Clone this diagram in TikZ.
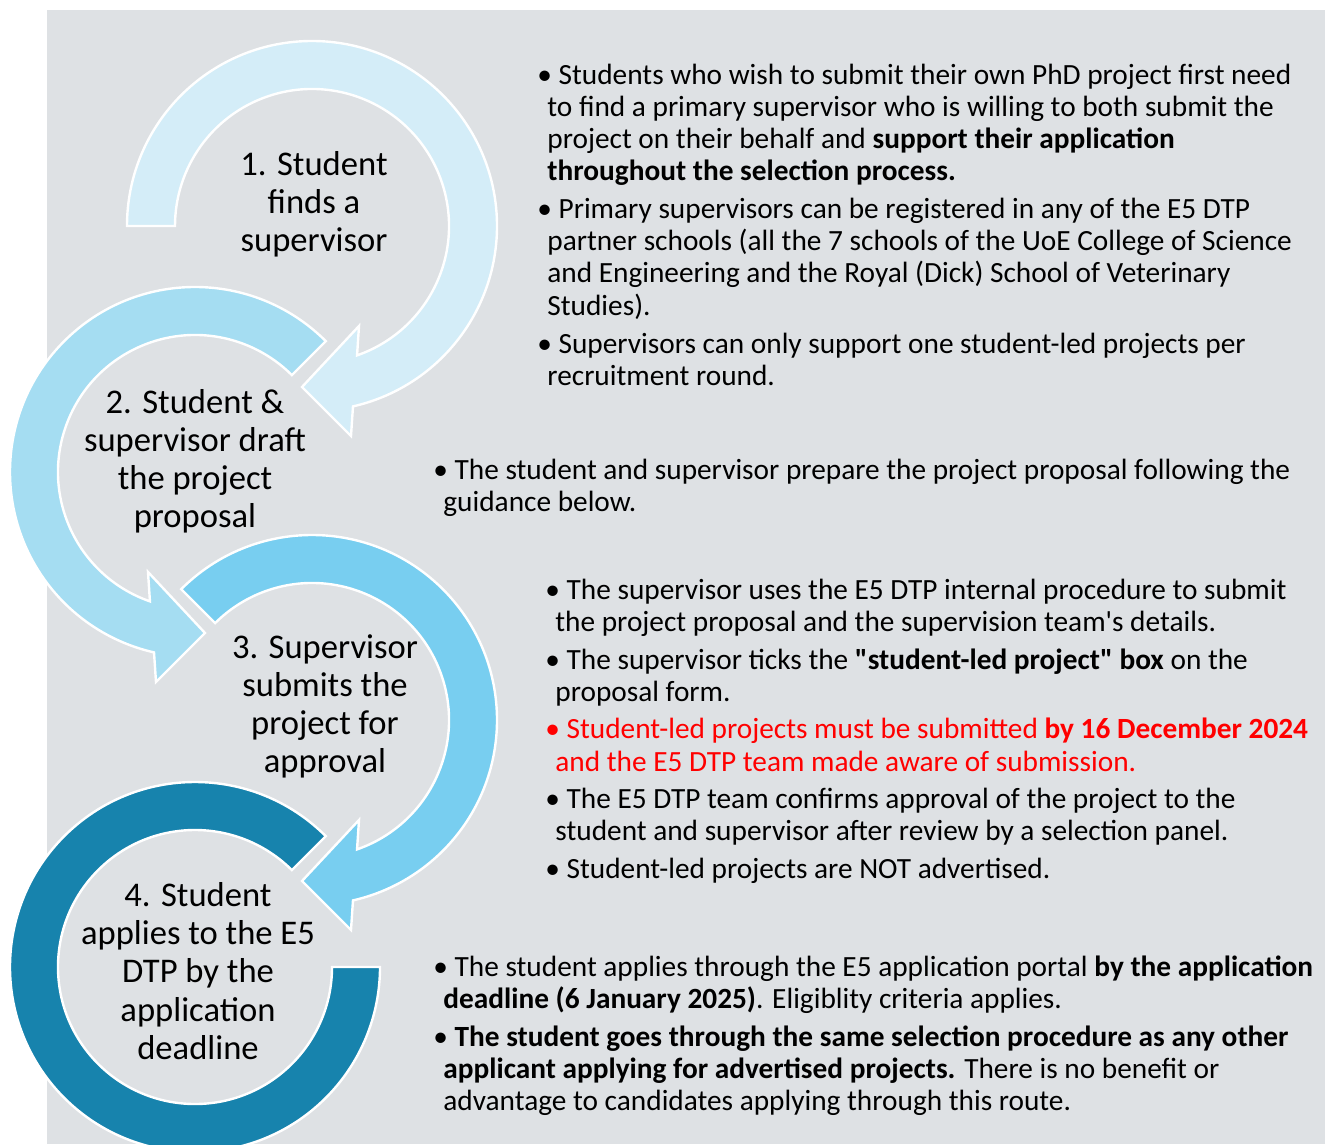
\documentclass[tikz,border=0pt]{standalone}
\usepackage{fontspec}
\setmainfont{Carlito}
\newfontfamily\carlfont{Carlito}
\definecolor{bg}{RGB}{222,225,228}
\definecolor{aone}{RGB}{212,237,248}
\definecolor{atwo}{RGB}{165,221,242}
\definecolor{athree}{RGB}{120,206,240}
\definecolor{afour}{RGB}{23,131,173}
\definecolor{redtxt}{RGB}{255,0,0}
\begin{document}
\begin{tikzpicture}[x=0.5pt,y=-0.5pt,
  ring/.style={draw=white, line width=1.2pt, line join=miter},
  lbl/.style={anchor=base, inner sep=0pt, font=\carlfont\fontsize{17.3}{19}\selectfont, text=black},
  txt/.style={anchor=base west, inner sep=0pt, font=\carlfont\fontsize{14.66}{16}\selectfont, text=black},
  redt/.style={txt, text=redtxt}]
\clip (0,0) rectangle (1325,1144);
\fill[white] (0,0) rectangle (1325,1144);
\fill[bg] (47,10) rectangle (1325,1144);

% ring 4
\begin{scope}[shift={(195,967)}]
  \filldraw[ring, fill=afour] (45:92.5pt) arc[start angle=45, end angle=360, radius=92.5pt]
    -- (0:68.5pt) arc[start angle=360, end angle=45, radius=68.5pt] -- cycle;
\end{scope}
% arrow 3
\begin{scope}[shift={(312,720)}]
  \filldraw[ring, fill=athree] (135:92.5pt) arc[start angle=135, end angle=-77.2, radius=92.5pt]
    -- (19.5pt,-105pt) -- (-5pt,-80.5pt) -- (23.5pt,-50pt)
    -- (-70.8:68.5pt) arc[start angle=-70.8, end angle=135, radius=68.5pt] -- cycle;
\end{scope}
% arrow 2 (mirrored)
\begin{scope}[shift={(195,472)}, xscale=-1]
  \filldraw[ring, fill=atwo] (135:92.5pt) arc[start angle=135, end angle=-77.2, radius=92.5pt]
    -- (19.5pt,-105pt) -- (-5pt,-80.5pt) -- (23.5pt,-50pt)
    -- (-70.8:68.5pt) arc[start angle=-70.8, end angle=135, radius=68.5pt] -- cycle;
\end{scope}
% arrow 1
\begin{scope}[shift={(312,226)}]
  \filldraw[ring, fill=aone] (180:92.5pt) arc[start angle=180, end angle=-77.2, radius=92.5pt]
    -- (19.5pt,-105pt) -- (-5pt,-80.5pt) -- (23.5pt,-50pt)
    -- (-70.8:68.5pt) arc[start angle=-70.8, end angle=180, radius=68.5pt] -- cycle;
\end{scope}

% step labels
\node[lbl] (s1a) at (314,176) {1. Student};
\node[lbl] (s1b) at (314,214) {finds a};
\node[lbl] (s1c) at (314,252) {supervisor};

\node[lbl] (s2a) at (195,413) {2. Student \&};
\node[lbl] (s2b) at (195,451) {supervisor draft};
\node[lbl] (s2c) at (195,489) {the project};
\node[lbl] (s2d) at (195,527) {proposal};

\node[lbl] (s3a) at (325,658) {3. Supervisor};
\node[lbl] (s3b) at (325,696) {submits the};
\node[lbl] (s3c) at (325,734) {project for};
\node[lbl] (s3d) at (325,772) {approval};

\node[lbl] (s4a) at (198,906) {4. Student};
\node[lbl] (s4b) at (198,944) {applies to the E5};
\node[lbl] (s4c) at (198,982) {DTP by the};
\node[lbl] (s4d) at (198,1021) {application};
\node[lbl] (s4e) at (198,1059) {deadline};

% block 1
\node[txt] (b1a) at (537,85) {• Students who wish to submit their own PhD project first need};
\node[txt] (b1b) at (547,117) {to find a primary supervisor who is willing to both submit the};
\node[txt] (b1c) at (547,149) {project on their behalf and \textbf{support their application}};
\node[txt] (b1d) at (547,181) {\textbf{throughout the selection process.}};
\node[txt] (b1e) at (537,219) {• Primary supervisors can be registered in any of the E5 DTP};
\node[txt] (b1f) at (547,251) {partner schools (all the 7 schools of the UoE College of Science};
\node[txt] (b1g) at (547,283) {and Engineering and the Royal (Dick) School of Veterinary};
\node[txt] (b1h) at (547,315) {Studies).};
\node[txt] (b1i) at (537,353) {• Supervisors can only support one student-led projects per};
\node[txt] (b1j) at (547,385) {recruitment round.};

% block 2
\node[txt] (b2a) at (433,479) {• The student and supervisor prepare the project proposal following the};
\node[txt] (b2b) at (443,511) {guidance below.};

% block 3
\node[txt] (b3a) at (545,599) {• The supervisor uses the E5 DTP internal procedure to submit};
\node[txt] (b3b) at (555,631) {the project proposal and the supervision team's details.};
\node[txt] (b3c) at (545,669) {• The supervisor ticks the \textbf{"student-led project" box} on the};
\node[txt] (b3d) at (555,701) {proposal form.};
\node[redt] (b3e) at (545,738) {• Student-led projects must be submitted \textbf{by 16 December 2024}};
\node[redt] (b3f) at (555,771) {and the E5 DTP team made aware of submission.};
\node[txt] (b3g) at (545,808) {• The E5 DTP team confirms approval of the project to the};
\node[txt] (b3h) at (555,840) {student and supervisor after review by a selection panel.};
\node[txt] (b3i) at (545,878) {• Student-led projects are NOT advertised.};

% block 4
\node[txt] (b4a) at (433,976) {• The student applies through the E5 application portal \textbf{by the application}};
\node[txt] (b4b) at (443,1008) {\textbf{deadline (6 January 2025)}. Eligiblity criteria applies.};
\node[txt] (b4c) at (433,1046) {• \textbf{The student goes through the same selection procedure as any other}};
\node[txt] (b4d) at (443,1078) {\textbf{applicant applying for advertised projects.} There is no benefit or};
\node[txt] (b4e) at (443,1110) {advantage to candidates applying through this route.};
\end{tikzpicture}
\end{document}
